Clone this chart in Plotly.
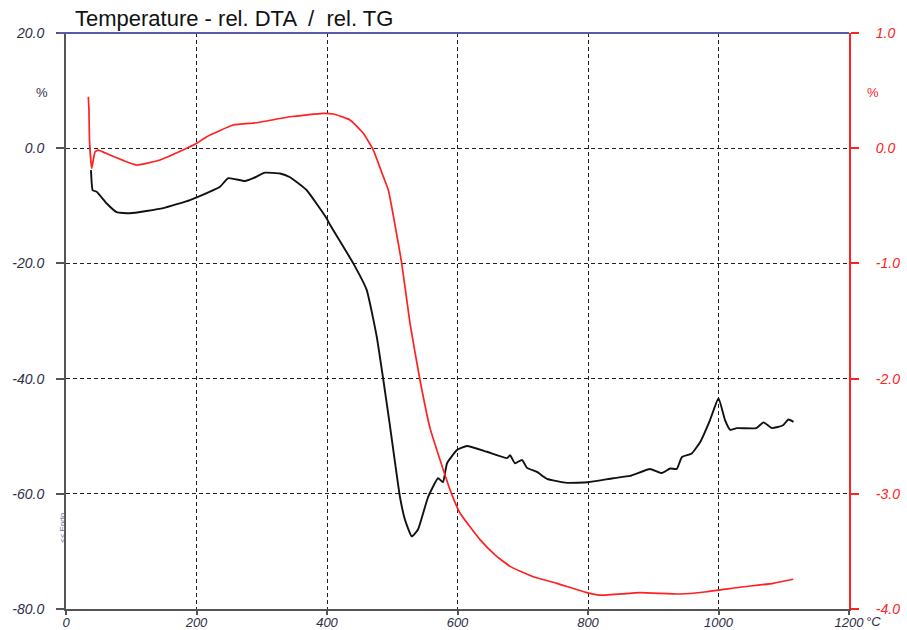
import plotly.graph_objects as go

# DTA (left axis, %) – black curve
dta_temp = [38.3, 40.9, 47.0, 62.4, 77.7, 98.1, 149.1, 190.0, 220.7, 236.0, 248.7, 274.3, 287.0,
            305.0, 328.0, 343.3, 368.9, 399.5, 404.6, 440.3, 460.8, 476.2, 486.3, 496.6, 511.9,
            519.5, 529.8, 539.5, 554.8, 570.1, 577.8, 583.9, 599.2, 614.6, 645.2, 675.9, 680.5,
            688.1, 698.9, 706.5, 721.8, 737.2, 767.8, 800.0, 838.3, 864.4, 895.0, 913.0, 926.0,
            936.0, 944.0, 959.0, 972.0, 987.0, 1000.0, 1010.0, 1018.0, 1028.0, 1058.0, 1069.0,
            1082.0, 1099.0, 1107.0, 1115.0]
dta_val = [-3.8, -7.3, -7.55, -9.6, -11.1, -11.3, -10.4, -9.0, -7.55, -6.7, -5.2, -5.7, -5.2,
           -4.25, -4.4, -5.05, -7.3, -12.2, -13.3, -20.0, -24.6, -32.7, -40.2, -48.3, -60.6,
           -64.5, -67.4, -66.2, -60.6, -57.3, -58.0, -54.7, -52.4, -51.7, -52.7, -53.8, -53.3,
           -54.7, -54.1, -55.5, -56.2, -57.4, -58.1, -58.0, -57.3, -56.9, -55.7, -56.4, -55.6,
           -55.7, -53.6, -53.0, -51.0, -47.2, -43.4, -47.2, -48.9, -48.6, -48.6, -47.6,
           -48.6, -48.1, -47.1, -47.5]

# TG (right axis, %) – red curve
tg_temp = [34.2, 35.2, 36.0, 39.4, 44.4, 49.5, 67.4, 108.4, 144.1, 179.3, 200.3, 215.6, 256.4,
           292.3, 343.3, 394.3, 409.7, 435.2, 455.6, 471.0, 486.3, 494.0, 514.5, 527.2, 542.5,
           557.9, 588.5, 603.8, 634.5, 657.5, 680.5, 716.0, 752.0, 798.0, 818.4, 879.7, 941.0,
           981.9, 1032.9, 1084.0, 1114.6]
tg_val = [0.447, 0.33, 0.07, -0.174, -0.033, -0.016, -0.059, -0.146, -0.102, -0.016, 0.042,
          0.100, 0.201, 0.221, 0.273, 0.303, 0.297, 0.245, 0.129, -0.016, -0.247, -0.363,
          -0.999, -1.52, -2.012, -2.43, -2.964, -3.167, -3.398, -3.53, -3.630, -3.72, -3.777,
          -3.858, -3.880, -3.858, -3.870, -3.850, -3.811, -3.777, -3.742]

x_ticks = [0, 200, 400, 600, 800, 1000, 1200]
left_ticks = [20, 0, -20, -40, -60, -80]
left_labels = ["20.0", "0.0", "-20.0", "-40.0", "-60.0", "-80.0"]
right_ticks = [1, 0, -1, -2, -3, -4]
right_labels = ["1.0", "0.0", "-1.0", "-2.0", "-3.0", "-4.0"]

FONT = "Liberation Sans, Arial, sans-serif"
LABEL_DARK = "#2e2e48"
RED = "#ff2020"

fig = go.Figure()
fig.add_trace(go.Scatter(x=dta_temp, y=dta_val, mode="lines",
                         line=dict(color="#111111", width=1.9, shape="spline", smoothing=0.4),
                         yaxis="y", showlegend=False))
fig.add_trace(go.Scatter(x=tg_temp, y=tg_val, mode="lines",
                         line=dict(color=RED, width=1.7, shape="spline", smoothing=0.4),
                         yaxis="y2", showlegend=False))

fig.update_layout(
    width=907, height=630,
    margin=dict(l=66, r=58, t=33, b=21, autoexpand=False),
    paper_bgcolor="white", plot_bgcolor="white",
    font=dict(family=FONT),
    title=dict(text="Temperature - rel. DTA  /  rel. TG", x=75/907, xanchor="left",
               y=1 - 18/630, yanchor="middle",
               font=dict(family=FONT, size=22, color="#111111")),
    xaxis=dict(range=[0, 1200], tickvals=x_ticks, ticktext=[str(v) for v in x_ticks],
               automargin=False,
               showline=True, linecolor="#555555", linewidth=2,
               ticks="outside", ticklen=4, tickcolor="#555555", tickwidth=1.5,
               ticklabelstandoff=-4,
               showgrid=True, gridcolor="#222222", gridwidth=1.3, griddash="4px,3px",
               zeroline=False,
               tickfont=dict(family=FONT, size=13, color=LABEL_DARK, style="italic")),
    yaxis=dict(range=[-80, 20], tickvals=left_ticks, ticktext=left_labels,
               automargin=False,
               showline=True, linecolor="#555555", linewidth=2,
               ticks="outside", ticklen=8, tickcolor="#555555", tickwidth=1.5,
               ticklabelstandoff=9,
               showgrid=True, gridcolor="#222222", gridwidth=1.3, griddash="4px,3px",
               zeroline=False,
               tickfont=dict(family=FONT, size=14, color=LABEL_DARK, style="italic")),
    yaxis2=dict(range=[-4, 1], tickvals=right_ticks, ticktext=right_labels,
                overlaying="y", side="right", automargin=False,
                showline=True, linecolor=RED, linewidth=2,
                ticks="outside", ticklen=8, tickcolor=RED, tickwidth=1.5,
                ticklabelstandoff=14,
                showgrid=False, zeroline=False,
                tickfont=dict(family=FONT, size=14, color=RED, style="italic")),
    shapes=[dict(type="line", xref="paper", yref="paper", x0=-8/783, x1=1, y0=1, y1=1,
                 line=dict(color="#5a5aa8", width=2))],
    annotations=[
        dict(text="%", xref="paper", yref="paper", x=-24/783, y=1 - 59/576,
             xanchor="center", yanchor="middle",
             showarrow=False, font=dict(family=FONT, size=13, color=LABEL_DARK)),
        dict(text="%", xref="paper", yref="paper", x=1 + 24/783, y=1 - 59/576,
             xanchor="center", yanchor="middle",
             showarrow=False, font=dict(family=FONT, size=13, color=RED)),
        dict(text="°C", xref="paper", yref="paper", x=1 + 24/783, y=-12/576,
             showarrow=False, xanchor="center", yanchor="middle",
             font=dict(family=FONT, size=13, color=LABEL_DARK, style="italic")),
        dict(text="<< Endo", xref="paper", yref="paper", x=-4/783, y=1 - 495/576,
             showarrow=False, textangle=-90, xanchor="center", yanchor="middle",
             font=dict(family=FONT, size=8, color="#6a6a90")),
    ],
)

fig.write_html("out.html", config={"displayModeBar": False},
               post_script="document.body.style.margin='0';document.body.style.overflow='hidden';")
